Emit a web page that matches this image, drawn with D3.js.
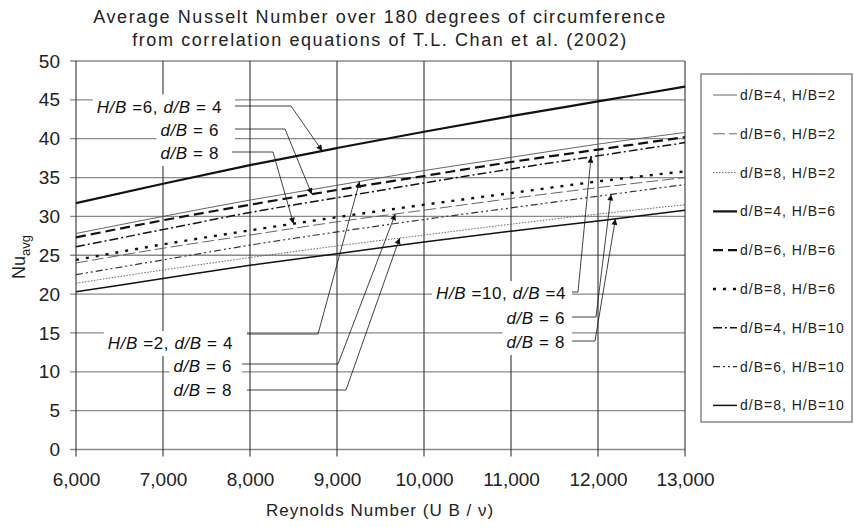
<!DOCTYPE html>
<html>
<head>
<meta charset="utf-8">
<script src="https://cdn.jsdelivr.net/npm/d3@7/dist/d3.min.js"></script>
<style>
  body { margin: 0; background: #fff; }
  svg { display: block; font-family: "Liberation Sans", Arial, sans-serif; }
</style>
</head>
<body>
<div id="chart"></div>
<script>
// Reynolds numbers (x) and Nu_avg for every curve
const reynolds = [6000, 7000, 8000, 9000, 10000, 11000, 12000, 13000];

const nu_d4_h2  = [27.8, 30.0, 32.1, 34.0, 35.9, 37.6, 39.3, 40.8];
const nu_d6_h2  = [24.0, 25.9, 27.6, 29.3, 30.8, 32.3, 33.7, 35.0];
const nu_d8_h2  = [21.4, 23.1, 24.7, 26.2, 27.6, 29.0, 30.3, 31.5];
const nu_d4_h6  = [31.7, 34.2, 36.6, 38.8, 40.9, 42.9, 44.8, 46.7];
const nu_d6_h6  = [27.3, 29.5, 31.5, 33.4, 35.2, 37.0, 38.6, 40.2];
const nu_d8_h6  = [24.4, 26.4, 28.2, 29.9, 31.5, 33.0, 34.5, 35.8];
const nu_d4_h10 = [26.1, 28.3, 30.5, 32.4, 34.3, 36.1, 37.8, 39.5];
const nu_d6_h10 = [22.5, 24.4, 26.3, 28.0, 29.6, 31.1, 32.6, 34.1];
const nu_d8_h10 = [20.3, 22.0, 23.7, 25.2, 26.7, 28.1, 29.4, 30.8];

const legendLabels = ['d/B=4, H/B=2', 'd/B=6, H/B=2', 'd/B=8, H/B=2',
                      'd/B=4, H/B=6', 'd/B=6, H/B=6', 'd/B=8, H/B=6',
                      'd/B=4, H/B=10', 'd/B=6, H/B=10', 'd/B=8, H/B=10'];
const seriesValues = [nu_d4_h2, nu_d6_h2, nu_d8_h2, nu_d4_h6, nu_d6_h6, nu_d8_h6,
                      nu_d4_h10, nu_d6_h10, nu_d8_h10];

const xTicks = [6000, 7000, 8000, 9000, 10000, 11000, 12000, 13000];
const yTicks = [0, 5, 10, 15, 20, 25, 30, 35, 40, 45, 50];

// line styles, same order as the series
const styles = [
  {color: '#555', width: 0.9, dash: null},
  {color: '#555', width: 0.9, dash: '12,4'},
  {color: '#555', width: 0.9, dash: '1.5,1.5'},
  {color: '#111', width: 2.2, dash: null},
  {color: '#111', width: 2.2, dash: '10,5'},
  {color: '#111', width: 2.4, dash: '3,7'},
  {color: '#111', width: 1.5, dash: '9,3,2,3'},
  {color: '#333', width: 1.2, dash: '7,3,2,3,2,3'},
  {color: '#111', width: 1.5, dash: null}
];

// annotations: series index, Reynolds number pointed at, label parts
const notes = [
  {s: 3, re: 8830,  parts: [['H/B', 1], [' =6, ', 0], ['d/B', 1], [' = 4', 0]], tx: 222, ty: 106.5, lx: [235, 291], ly: 106},
  {s: 4, re: 8710,  parts: [['d/B', 1], [' = 6', 0]], tx: 219, ty: 130, lx: [235, 285], ly: 129},
  {s: 5, re: 8500,  parts: [['d/B', 1], [' = 8', 0]], tx: 219, ty: 153, lx: [232, 273], ly: 152},
  {s: 0, re: 9260,  parts: [['H/B', 1], [' =2, ', 0], ['d/B', 1], [' = 4', 0]], tx: 233, ty: 343, lx: [247, 318], ly: 334},
  {s: 1, re: 9670,  parts: [['d/B', 1], [' = 6', 0]], tx: 232, ty: 366, lx: [242, 338], ly: 364},
  {s: 2, re: 9720,  parts: [['d/B', 1], [' = 8', 0]], tx: 232, ty: 390, lx: [247, 346], ly: 390},
  {s: 6, re: 11920, parts: [['H/B', 1], [' =10, ', 0], ['d/B', 1], [' =4', 0]], tx: 566, ty: 293, lx: [572, 578], ly: 292},
  {s: 7, re: 12150, parts: [['d/B', 1], [' = 6', 0]], tx: 565, ty: 318, lx: [572, 596], ly: 317},
  {s: 8, re: 12200, parts: [['d/B', 1], [' = 8', 0]], tx: 565, ty: 342, lx: [572, 595], ly: 341}
];

const W = 854, H = 527;
const svg = d3.select('#chart').append('svg').attr('width', W).attr('height', H);

const x = d3.scaleLinear().domain([6000, 13000]).range([76, 685]);
const y = d3.scaleLinear().domain([0, 50]).range([449.5, 61]);

svg.append('defs').append('marker')
    .attr('id', 'arr')
    .attr('viewBox', '0 0 10 10')
    .attr('refX', 10).attr('refY', 5)
    .attr('markerWidth', 7).attr('markerHeight', 6)
    .attr('markerUnits', 'userSpaceOnUse')
    .attr('orient', 'auto')
    .append('path').attr('d', 'M0,0L10,5L0,10z').attr('fill', '#111');

//Título
const title = svg.append('g').attr('fill', '#222').attr('font-size', 18).attr('text-anchor', 'middle');
title.append('text').attr('x', 380).attr('y', 23).attr('letter-spacing', 1.6)
    .text('Average Nusselt Number over 180 degrees of circumference');
title.append('text').attr('x', 380).attr('y', 46).attr('letter-spacing', 1.6)
    .text('from correlation equations of T.L. Chan et al. (2002)');

//Rejilla
svg.append('g').selectAll('line').data(yTicks).enter().append('line')
    .attr('x1', 70).attr('x2', x(13000))
    .attr('y1', d => y(d)).attr('y2', d => y(d))
    .attr('stroke', '#8a8a8a').attr('stroke-width', 1.3);

svg.append('g').selectAll('line').data(xTicks).enter().append('line')
    .attr('x1', d => x(d)).attr('x2', d => x(d))
    .attr('y1', y(50)).attr('y2', y(0) + 7)
    .attr('stroke', '#333').attr('stroke-width', 1.1);

//Ejes (solo etiquetas)
const yAxis = svg.append('g').attr('transform', 'translate(' + x(6000) + ',0)')
    .call(d3.axisLeft(y).tickValues(yTicks).tickSize(0).tickPadding(16));
const xAxis = svg.append('g').attr('transform', 'translate(0,' + y(0) + ')')
    .call(d3.axisBottom(x).tickValues(xTicks).tickSize(0).tickPadding(23).tickFormat(d3.format(',')));
[yAxis, xAxis].forEach(a => {
    a.select('.domain').remove();
    a.selectAll('text').attr('font-size', 19).attr('fill', '#222')
        .attr('font-family', '"Liberation Sans", Arial, sans-serif');
});

// white boxes under annotation labels (they hide the gridlines)
const boxes = svg.append('g');
const lines = svg.append('g');
const labels = svg.append('g');

//Curvas
const line = d3.line()
    .x((d, i) => x(reynolds[i]))
    .y(d => y(d))
    .curve(d3.curveMonotoneX);

lines.selectAll('path').data(seriesValues).enter().append('path')
    .attr('d', line)
    .attr('fill', 'none')
    .attr('stroke', (d, i) => styles[i].color)
    .attr('stroke-width', (d, i) => styles[i].width)
    .attr('stroke-dasharray', (d, i) => styles[i].dash);

//Anotaciones
function valueAt(vals, re) {
    return d3.scaleLinear().domain(reynolds).range(vals)(re);
}

notes.forEach(n => {
    const t = labels.append('text')
        .attr('x', n.tx).attr('y', n.ty + 6)
        .attr('text-anchor', 'end')
        .attr('font-size', 17).attr('letter-spacing', 0.6).attr('fill', '#111');
    n.parts.forEach(p => {
        t.append('tspan').attr('font-style', p[1] ? 'italic' : 'normal').text(p[0]);
    });
    const bb = t.node().getBBox();
    boxes.append('rect')
        .attr('x', bb.x - 4).attr('y', bb.y - 3)
        .attr('width', n.lx[0] - bb.x + 4).attr('height', bb.height + 6)
        .attr('fill', '#fff');

    const tipX = x(n.re), tipY = y(valueAt(seriesValues[n.s], n.re));
    labels.append('path')
        .attr('d', 'M' + n.lx[0] + ',' + n.ly + 'L' + n.lx[1] + ',' + n.ly + 'L' + tipX + ',' + tipY)
        .attr('fill', 'none')
        .attr('stroke', '#111').attr('stroke-width', 0.8)
        .attr('marker-end', 'url(#arr)');
});

//Títulos de ejes
svg.append('text')
    .attr('x', 380).attr('y', 516)
    .attr('text-anchor', 'middle').attr('font-size', 17).attr('letter-spacing', 1)
    .attr('fill', '#222')
    .text('Reynolds Number (U B / ν)');

const yl = svg.append('text')
    .attr('transform', 'translate(25,257) rotate(-90)')
    .attr('text-anchor', 'middle').attr('font-size', 18).attr('fill', '#222');
yl.append('tspan').text('Nu');
yl.append('tspan').attr('font-size', 13).attr('dy', 5).text('avg');

//Leyenda
const legend = svg.append('g');
legend.append('rect')
    .attr('x', 701).attr('y', 74).attr('width', 151).attr('height', 348)
    .attr('fill', '#fff').attr('stroke', '#888').attr('stroke-width', 1.5);

const rows = legend.selectAll('g.row').data(legendLabels).enter().append('g')
    .attr('class', 'row')
    .attr('transform', (d, i) => 'translate(0,' + (95 + i * 38.8) + ')');

rows.append('line')
    .attr('x1', 713).attr('x2', 737).attr('y1', 0).attr('y2', 0)
    .attr('stroke', (d, i) => styles[i].color)
    .attr('stroke-width', (d, i) => styles[i].width)
    .attr('stroke-dasharray', (d, i) => styles[i].dash);

rows.append('text')
    .attr('x', 740).attr('y', 5)
    .attr('font-size', 14).attr('letter-spacing', 1).attr('fill', '#222')
    .text(d => d);
</script>
</body>
</html>
